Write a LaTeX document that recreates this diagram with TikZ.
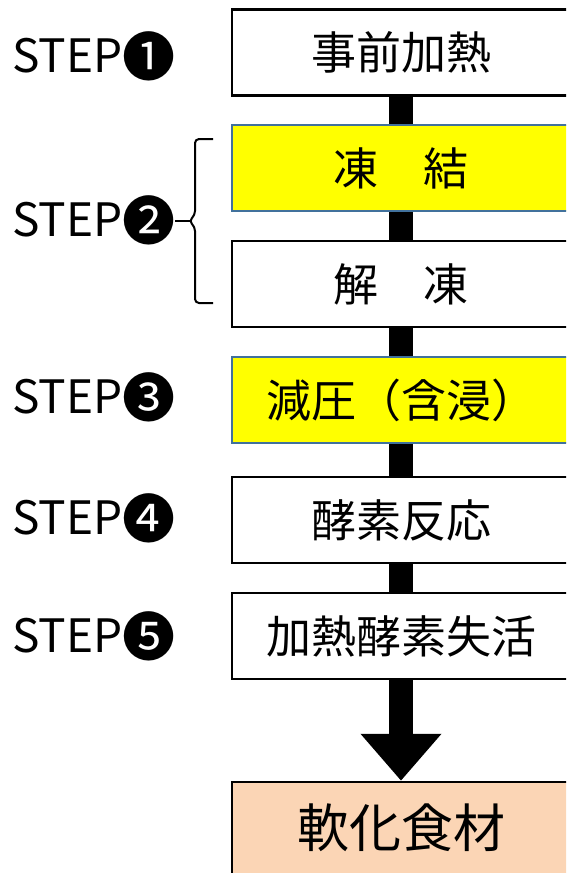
\documentclass[tikz,border=0pt]{standalone}
\usepackage{fontspec}
\setmainfont{Noto Sans CJK JP}
\usetikzlibrary{arrows.meta}
\definecolor{boxyellow}{HTML}{FFFF00}
\definecolor{yellowedge}{HTML}{41719C}
\definecolor{peach}{HTML}{FBD5B5}
\newcommand\stepnum[1]{{\fontsize{53}{53}\selectfont\raisebox{-4pt}{#1}}}
\tikzset{
  stepbox/.style={draw=black, line width=2.5pt, fill=white, minimum width=338pt,
    minimum height=86pt, inner sep=0pt, font=\fontsize{45}{50}\selectfont},
  hlbox/.style={stepbox, draw=yellowedge, line width=2pt, fill=boxyellow},
  endbox/.style={stepbox, fill=peach, minimum height=92pt, font=\fontsize{52}{58}\selectfont},
  steplabel/.style={anchor=base west, inner sep=0pt, font=\fontsize{46}{50}\selectfont},
  bar/.style={line width=24pt, black},
}
\begin{document}
\begin{tikzpicture}[x=1pt, y=-1pt]
\useasboundingbox (0,0) rectangle (566,873);
\clip (0,0) rectangle (566,873);
% boxes
\node[stepbox] (b1) at (401,52.5) {事前加熱};
\node[hlbox]   (b2) at (401,168.25) {凍　結};
\node[stepbox] (b3) at (401,284) {解　凍};
\node[hlbox]   (b4) at (401,400) {減圧（含浸）};
\node[stepbox] (b5) at (401,520) {酵素反応};
\node[stepbox] (b6) at (401,636) {加熱酵素失活};
\node[endbox]  (b7) at (401,828) {軟化食材};
% connectors
\draw[bar] (b1) -- (b2);
\draw[bar] (b2) -- (b3);
\draw[bar] (b3) -- (b4);
\draw[bar] (b4) -- (b5);
\draw[bar] (b5) -- (b6);
\draw[line width=24pt, -{Triangle[length=47pt,width=78pt]}] (b6) -- (b7);
% step labels
\node[steplabel] (s1) at (12,72) {STEP\stepnum{❶}};
\node[steplabel] (s2) at (12,236) {STEP\stepnum{❷}};
\node[steplabel] (s3) at (12,413) {STEP\stepnum{❸}};
\node[steplabel] (s4) at (12,534) {STEP\stepnum{❹}};
\node[steplabel] (s5) at (12,652) {STEP\stepnum{❺}};
% brace
\draw[line width=2pt, rounded corners=4pt]
  (213,139) -- (195,139) -- (195,215) -- (189,221) -- (195,227) -- (195,303) -- (213,303);
\coordinate (cusp) at (191,221);
\draw[line width=2pt] (175,221) -- (cusp);
\end{tikzpicture}
\end{document}
